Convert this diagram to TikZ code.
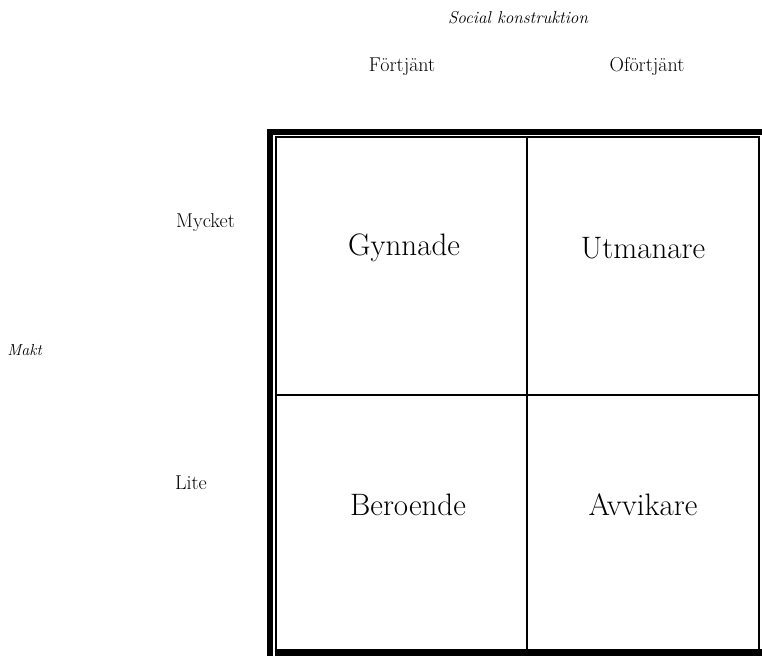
\documentclass[tikz,border=0pt]{standalone}
\begin{document}
\begin{tikzpicture}[x=1pt,y=-1pt,
  small/.style={font=\fontsize{20}{24}\selectfont, inner sep=0pt},
  smallit/.style={font=\fontsize{17.2}{20}\selectfont\itshape, inner sep=0pt},
  big/.style={font=\fontsize{31}{36}\selectfont, inner sep=0pt},
  thin/.style={line width=2pt},
]
\useasboundingbox (0,0) rectangle (762,656);
% outer thick border (top, left, bottom)
\fill (267,129) rectangle (762,134.5);
\fill (267,129) rectangle (273,656);
\fill (275,649) rectangle (762,656);
% inner thin frame
\draw[thin] (275.5,136.5) rectangle (759,650);
% grid lines
\coordinate (vt) at (527,136.5);
\coordinate (vb) at (527,650);
\coordinate (hl) at (275.5,395);
\coordinate (hr) at (759,395);
\draw[thin] (vt) -- (vb);
\draw[thin] (hl) -- (hr);
% labels
\node[smallit] (soc) at (518,18) {Social konstruktion};
\node[small] (fort) at (402,67) {Förtjänt};
\node[small] (ofort) at (647,67) {Oförtjänt};
\node[small] (myck) at (205.5,223) {Mycket};
\node[small] (lite) at (191,483) {Lite};
\node[font=\fontsize{16}{19}\selectfont\itshape, inner sep=0pt] (makt) at (24.5,350) {Makt};
\node[big] (gyn) at (404,248) {Gynnade};
\node[big] (utm) at (643,248) {Utmanare};
\node[big] (ber) at (408,505) {Beroende};
\node[big] (avv) at (643,505) {Avvikare};
\end{tikzpicture}
\end{document}
